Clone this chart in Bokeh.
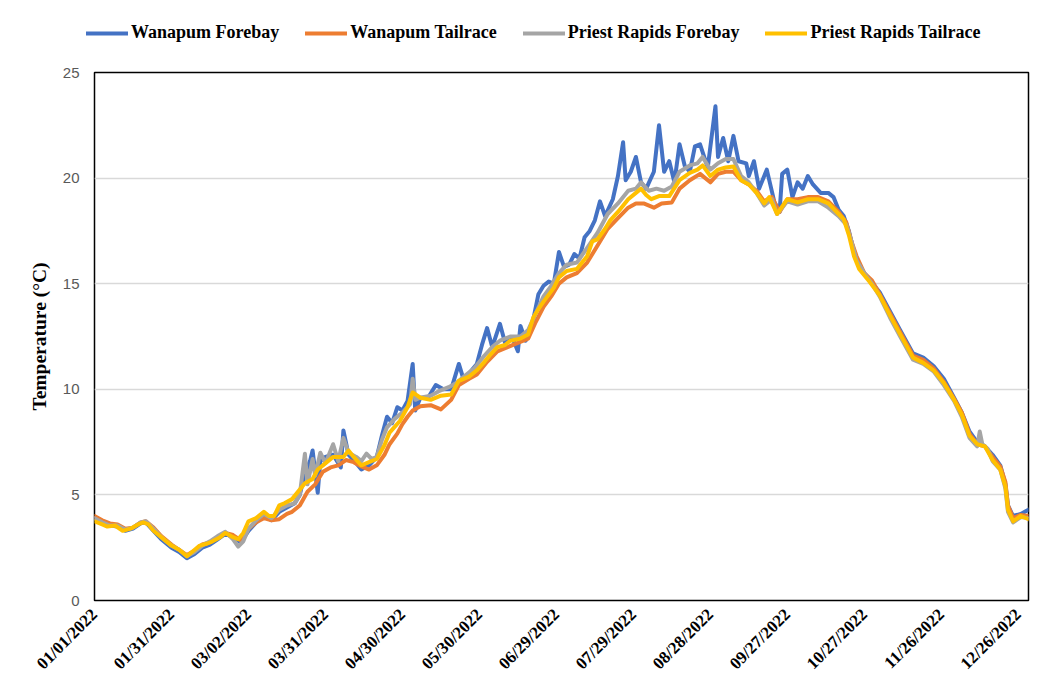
import math
from bokeh.plotting import figure
from bokeh.layouts import column
from bokeh.models import Legend, LegendItem, Range1d, FixedTicker
from bokeh.embed import file_html
from bokeh.resources import INLINE

# ---- data (day index from 01/01/2022, temperature in deg C) ----
tick_days = [0, 30, 60, 90, 120, 150, 180, 210, 240, 270, 300, 330, 360]
tick_labels = ["01/01/2022", "01/31/2022", "03/02/2022", "03/31/2022", "04/30/2022",
               "05/30/2022", "06/29/2022", "07/29/2022", "08/28/2022", "09/27/2022",
               "10/27/2022", "11/26/2022", "12/26/2022"]

wf_days = [0, 3, 6, 9, 12, 15, 18, 20, 23, 26, 30, 33, 36, 39, 42, 45, 48, 51, 54, 57,
           60, 63, 66, 69, 72, 75, 78, 80, 82, 84, 85, 87, 88, 90, 93, 95, 96, 97, 99, 102,
           104, 107, 110, 112, 114, 116, 118, 120, 122, 124, 125, 127, 130, 133, 136, 139, 142, 144, 147, 149,
           151, 153, 155, 158, 160, 163, 165, 166, 168, 171, 173, 175, 177, 179, 181, 183, 185, 187, 189, 191,
           193, 195, 197, 199, 202, 204, 206, 207, 209, 211, 213, 215, 218, 220, 222, 224, 226, 228, 230, 232,
           234, 236, 239, 242, 243, 245, 247, 249, 251, 254, 255, 257, 259, 262, 265, 267, 268, 270, 272, 274,
           276, 278, 280, 283, 286, 288, 290, 292, 294, 296, 298, 302, 306, 310, 314, 319, 323, 327, 331, 335,
           338, 341, 344, 347, 350, 353, 355, 356, 358, 361, 364]
wf_vals = [3.9, 3.7, 3.55, 3.5, 3.3, 3.4, 3.65, 3.7, 3.3, 2.9, 2.5, 2.3, 2.0, 2.2, 2.5, 2.65, 2.9, 3.15, 3.0, 2.75,
           3.3, 3.7, 4.0, 3.8, 4.2, 4.4, 4.6, 5.0, 6.0, 6.6, 7.1, 5.1, 6.6, 6.8, 6.9, 6.5, 6.3, 8.05, 6.9, 6.5,
           6.2, 6.4, 6.8, 7.8, 8.7, 8.4, 9.15, 9.0, 9.45, 11.2, 9.0, 9.6, 9.6, 10.2, 10.0, 10.0, 11.2, 10.4, 10.9, 11.2,
           12.1, 12.9, 12.0, 13.1, 12.2, 12.4, 11.8, 13.0, 12.3, 13.3, 14.5, 14.9, 15.1, 15.0, 16.5, 15.8, 15.9, 16.4, 16.2, 17.2,
           17.5, 18.0, 18.9, 18.2, 19.0, 20.1, 21.7, 19.9, 20.3, 21.0, 19.8, 19.5, 20.3, 22.5, 20.3, 20.8, 19.8, 21.6, 20.6, 20.3,
           21.5, 21.6, 20.5, 23.4, 21.0, 21.9, 20.8, 22.0, 20.8, 20.7, 20.1, 20.8, 19.5, 20.4, 18.85, 18.4, 20.2, 20.4, 19.1, 19.8,
           19.5, 20.1, 19.7, 19.3, 19.3, 19.1, 18.5, 18.2, 17.5, 16.5, 15.8, 15.2, 14.6, 13.7, 12.8, 11.7, 11.5, 11.1, 10.5, 9.6,
           8.9, 8.0, 7.5, 7.3, 6.9, 6.4, 5.5, 4.5, 4.0, 4.1, 4.3]

wt_days = [0, 3, 6, 9, 12, 15, 18, 20, 23, 26, 30, 33, 36, 39, 42, 45, 48, 51, 54, 57,
           60, 63, 66, 69, 72, 75, 77, 80, 83, 86, 89, 92, 95, 98, 101, 104, 107, 110, 113, 115,
           118, 120, 122, 124, 127, 131, 135, 139, 142, 146, 149, 153, 157, 161, 165, 169, 172, 175, 178, 181,
           184, 188, 192, 196, 200, 204, 208, 211, 214, 218, 221, 225, 228, 232, 236, 240, 243, 246, 249, 252,
           255, 258, 261, 264, 267, 270, 274, 278, 282, 286, 290, 293, 295, 297, 300, 303, 306, 310, 314, 319,
           323, 327, 331, 335, 338, 341, 344, 347, 350, 353, 355, 356, 358, 361, 364]
wt_vals = [4.0, 3.8, 3.65, 3.6, 3.4, 3.45, 3.7, 3.75, 3.45, 3.05, 2.65, 2.4, 2.15, 2.35, 2.65, 2.75, 3.0, 3.2, 3.1, 2.85,
           3.4, 3.7, 3.9, 3.8, 3.85, 4.1, 4.2, 4.5, 5.15, 5.5, 6.1, 6.3, 6.4, 6.65, 6.55, 6.35, 6.2, 6.4, 6.9, 7.4,
           7.9, 8.35, 8.7, 9.0, 9.2, 9.25, 9.05, 9.5, 10.2, 10.5, 10.7, 11.3, 11.8, 12.0, 12.2, 12.4, 13.2, 13.9, 14.4, 15.0,
           15.3, 15.5, 16.0, 16.8, 17.6, 18.1, 18.6, 18.8, 18.8, 18.6, 18.8, 18.85, 19.5, 19.9, 20.2, 19.8, 20.2, 20.3, 20.3, 19.9,
           19.7, 19.4, 18.9, 19.1, 18.4, 19.0, 19.0, 19.1, 19.1, 18.9, 18.4, 17.9, 17.0, 16.3, 15.5, 15.15, 14.5, 13.6, 12.7, 11.6,
           11.4, 11.0, 10.35, 9.55, 8.9, 7.9, 7.4, 7.3, 6.8, 6.35, 5.6, 4.5, 3.9, 4.05, 4.0]

pf_days = [0, 3, 6, 9, 12, 15, 18, 20, 23, 26, 30, 33, 36, 39, 42, 45, 48, 51, 54, 56,
           58, 60, 63, 66, 69, 72, 75, 78, 80, 82, 83, 85, 86, 88, 90, 93, 95, 97, 99, 102,
           104, 106, 108, 110, 112, 114, 117, 120, 123, 124, 125, 127, 131, 134, 138, 141, 144, 148, 152, 155,
           158, 162, 166, 169, 172, 175, 178, 181, 184, 188, 192, 196, 200, 204, 208, 211, 213, 216, 219, 222,
           225, 228, 232, 235, 237, 240, 243, 246, 249, 252, 255, 258, 261, 264, 266, 270, 274, 278, 282, 286,
           290, 293, 295, 297, 300, 303, 306, 310, 314, 319, 323, 327, 331, 335, 338, 341, 344, 345, 346, 348,
           350, 353, 355, 356, 358, 361, 364]
pf_vals = [3.9, 3.7, 3.55, 3.55, 3.35, 3.45, 3.7, 3.75, 3.4, 3.0, 2.6, 2.4, 2.1, 2.3, 2.6, 2.8, 3.05, 3.25, 2.9, 2.55,
           2.8, 3.4, 3.8, 4.1, 3.9, 4.3, 4.5, 4.6, 5.0, 6.95, 5.5, 6.7, 5.9, 7.0, 6.5, 7.4, 6.6, 7.7, 7.0, 6.8,
           6.6, 6.95, 6.7, 6.8, 7.6, 8.2, 8.6, 8.9, 9.3, 10.5, 9.5, 9.6, 9.7, 9.9, 10.1, 10.3, 10.6, 11.0, 11.6, 12.0,
           12.3, 12.5, 12.5, 12.8, 13.6, 14.4, 14.9, 15.5, 15.9, 16.0, 16.7, 17.4, 18.3, 18.8, 19.4, 19.5, 19.8, 19.4, 19.5, 19.4,
           19.6, 20.3, 20.6, 20.7, 21.0, 20.4, 20.7, 20.9, 20.9, 20.1, 19.8, 19.3, 18.7, 19.0, 18.3, 18.9, 18.75, 18.9, 18.9, 18.6,
           18.2, 17.8, 17.0, 16.1, 15.5, 15.0, 14.4, 13.4, 12.5, 11.4, 11.2, 10.85, 10.2, 9.45, 8.7, 7.7, 7.3, 8.0, 7.4, 7.2,
           6.6, 6.2, 5.3, 4.2, 3.7, 3.95, 3.9]

pt_days = [0, 3, 5, 8, 11, 14, 17, 19, 21, 23, 26, 30, 33, 36, 38, 41, 44, 46, 49, 51,
           54, 56, 58, 60, 63, 66, 68, 70, 72, 74, 77, 80, 82, 85, 87, 89, 93, 97, 99, 101,
           104, 107, 110, 113, 115, 119, 122, 124, 127, 131, 135, 139, 142, 146, 149, 152, 154, 157, 160, 162,
           166, 169, 171, 173, 175, 179, 181, 184, 188, 190, 192, 194, 196, 199, 201, 204, 208, 211, 213, 215,
           217, 220, 224, 228, 232, 235, 237, 240, 243, 246, 249, 252, 255, 258, 261, 263, 266, 270, 274, 278,
           282, 286, 290, 292, 294, 296, 298, 302, 306, 310, 314, 319, 323, 327, 331, 335, 338, 341, 344, 347,
           350, 353, 355, 356, 358, 361, 364]
pt_vals = [3.75, 3.6, 3.5, 3.55, 3.3, 3.4, 3.6, 3.7, 3.6, 3.3, 3.0, 2.6, 2.4, 2.1, 2.3, 2.6, 2.7, 2.8, 3.0, 3.2,
           3.0, 2.9, 3.2, 3.75, 3.9, 4.2, 4.0, 4.0, 4.5, 4.6, 4.8, 5.25, 5.55, 5.75, 6.2, 6.4, 6.8, 6.8, 7.1, 6.8,
           6.4, 6.55, 6.7, 7.35, 7.95, 8.5, 9.15, 9.85, 9.6, 9.5, 9.7, 9.75, 10.4, 10.6, 10.9, 11.3, 11.6, 12.0, 12.1, 12.3,
           12.4, 12.6, 13.4, 13.8, 14.15, 14.8, 15.3, 15.6, 15.7, 16.0, 16.3, 17.0, 17.1, 17.6, 18.0, 18.4, 19.0, 19.3, 19.5, 19.2,
           19.0, 19.15, 19.15, 19.9, 20.25, 20.4, 20.6, 20.1, 20.4, 20.5, 20.55, 19.9, 19.7, 19.3, 18.8, 19.1, 18.3, 19.0, 18.85, 19.0,
           19.0, 18.8, 18.3, 18.05, 17.3, 16.3, 15.7, 15.1, 14.45, 13.5, 12.6, 11.5, 11.25, 10.9, 10.3, 9.5, 8.8, 7.8, 7.4, 7.3,
           6.65, 6.2, 5.4, 4.3, 3.75, 4.0, 3.85]

names = ["Wanapum Forebay", "Wanapum Tailrace", "Priest Rapids Forebay", "Priest Rapids Tailrace"]
colors = ["#4472C4", "#ED7D31", "#A5A5A5", "#FFC000"]

SERIF = "Liberation Serif"
series = [(wf_days, wf_vals), (wt_days, wt_vals), (pf_days, pf_vals), (pt_days, pt_vals)]

# ---------- legend strip (separate figure on top) ----------
LEG_H = 50
lf = figure(width=1033, height=LEG_H, output_backend="svg", toolbar_location=None,
            x_axis_type=None, y_axis_type=None,
            x_range=Range1d(0, 364), y_range=Range1d(100, 101),
            min_border_left=0, min_border_right=0, min_border_top=0, min_border_bottom=0)
lf.outline_line_color = None
lf.background_fill_color = "white"
lf.border_fill_color = "white"
lf.xgrid.visible = False
lf.ygrid.visible = False

if "frame_align" in lf.properties():
    lf.frame_align = False
    leg_loc, glyph_w = (86, 7), 42
else:
    leg_loc, glyph_w = (0, 7), 34

items = []
for (d, v), name, c in zip(series, names, colors):
    r = lf.line(d, v, line_color=c, line_width=4, line_cap="round")
    items.append(LegendItem(label=name, renderers=[r]))
legend = Legend(items=items, orientation="horizontal", location=leg_loc,
                glyph_width=glyph_w, glyph_height=20, label_standoff=3, spacing=26,
                padding=0, margin=0, border_line_color=None, background_fill_alpha=0,
                label_text_font=SERIF, label_text_font_style="bold",
                label_text_font_size="18px", label_text_color="black")
lf.add_layout(legend, "center")

# ---------- main chart ----------
p = figure(width=1033, height=682 - LEG_H, output_backend="svg", toolbar_location=None,
           x_range=Range1d(0, 364), y_range=Range1d(0, 25),
           min_border_left=94, min_border_right=5, min_border_top=72 - LEG_H, min_border_bottom=77)
p.background_fill_color = "white"
p.border_fill_color = "white"
p.outline_line_color = "black"
p.outline_line_width = 1.5

for (d, v), c in zip(series, colors):
    p.line(d, v, line_color=c, line_width=4, line_join="round", line_cap="round")

# x axis
p.xaxis.ticker = FixedTicker(ticks=tick_days)
p.xaxis.major_label_overrides = {d: l for d, l in zip(tick_days, tick_labels)}
p.xaxis.major_label_orientation = math.pi / 4
p.xaxis.major_label_text_font = SERIF
p.xaxis.major_label_text_font_style = "bold"
p.xaxis.major_label_text_font_size = "17px"
p.xaxis.major_label_text_color = "black"
p.xaxis.major_tick_out = 0
p.xaxis.major_tick_in = 0
p.xaxis.major_label_standoff = 11
p.xaxis.axis_line_color = None
p.xaxis.major_tick_line_color = None
p.xaxis.minor_tick_line_color = None

# y axis
p.yaxis.ticker = FixedTicker(ticks=[0, 5, 10, 15, 20, 25])
p.yaxis.major_label_text_font = "Liberation Sans"
p.yaxis.major_label_text_font_size = "15px"
p.yaxis.major_label_text_color = "#595959"
p.yaxis.major_tick_out = 0
p.yaxis.major_tick_in = 0
p.yaxis.major_label_standoff = 15
p.yaxis.axis_line_color = None
p.yaxis.major_tick_line_color = None
p.yaxis.minor_tick_line_color = None
p.yaxis.axis_label = "Temperature (°C)"
p.yaxis.axis_label_text_font = SERIF
p.yaxis.axis_label_text_font_style = "bold"
p.yaxis.axis_label_text_font_size = "19.5px"
p.yaxis.axis_label_text_color = "black"
p.yaxis.axis_label_standoff = 10

p.xgrid.grid_line_color = None
p.ygrid.grid_line_color = "#D9D9D9"
p.ygrid.grid_line_width = 1.5

layout = column(lf, p, spacing=0)
open("out.html", "w").write(file_html(layout, INLINE))
